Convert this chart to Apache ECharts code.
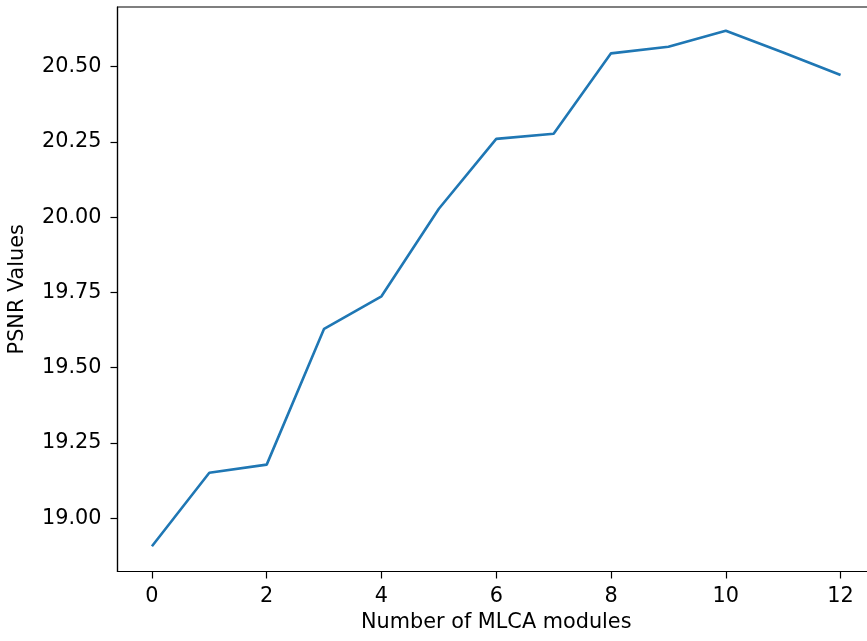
<!DOCTYPE html>
<html>
<head>
<meta charset="utf-8">
<script src="https://cdn.jsdelivr.net/npm/echarts@6/dist/echarts.min.js"></script>
<style>
html,body{margin:0;padding:0;background:#fff;}
#chart{width:867px;height:641px;}
</style>
</head>
<body>
<div id="chart"></div>
<script>
const modules = [0, 1, 2, 3, 4, 5, 6, 7, 8, 9, 10, 11, 12];
const psnrValues = [18.907, 19.151, 19.178, 19.629, 19.737, 20.028, 20.260, 20.277, 20.544, 20.566, 20.619, 20.547, 20.472];
const xTicks = [0, 2, 4, 6, 8, 10, 12];
const yTicks = [19.00, 19.25, 19.50, 19.75, 20.00, 20.25, 20.50];

const font = 'DejaVu Sans';
const fs = 20.8;
const chart = echarts.init(document.getElementById('chart'));
chart.setOption({
  animation: false,
  backgroundColor: '#fff',
  grid: {
    left: 117.5, top: 7, width: 757.5, height: 564.5,
    outerBoundsMode: 'none',
    containLabel: false,
    show: true, borderColor: '#000', borderWidth: 1.2, backgroundColor: 'transparent'
  },
  xAxis: {
    type: 'value',
    min: -0.6, max: 12.6,
    name: 'Number of MLCA modules',
    nameLocation: 'middle',
    nameGap: 41,
    nameTextStyle: { fontFamily: font, fontSize: fs, color: '#000' },
    axisLine: { show: true, onZero: false, lineStyle: { color: '#000', width: 1.2 } },
    axisTick: { show: true, customValues: xTicks, length: 7, lineStyle: { color: '#000', width: 1.2 } },
    axisLabel: { customValues: xTicks, margin: 15, fontFamily: font, fontSize: fs, color: '#000' },
    splitLine: { show: false }
  },
  yAxis: {
    type: 'value',
    min: 18.823, max: 20.698,
    name: 'PSNR Values',
    nameLocation: 'middle',
    nameRotate: 90,
    nameGap: 89,
    nameTextStyle: { fontFamily: font, fontSize: fs, color: '#000' },
    axisLine: { show: true, onZero: false, lineStyle: { color: '#000', width: 1.2 } },
    axisTick: { show: true, customValues: yTicks, length: 7, lineStyle: { color: '#000', width: 1.2 } },
    axisLabel: {
      customValues: yTicks, margin: 16, fontFamily: font, fontSize: fs, color: '#000',
      formatter: v => v.toFixed(2)
    },
    splitLine: { show: false }
  },
  series: [{
    type: 'line',
    data: modules.map((m, i) => [m, psnrValues[i]]),
    showSymbol: false,
    symbol: 'none',
    lineStyle: { color: '#1f77b4', width: 2.6 },
    itemStyle: { color: '#1f77b4' }
  }]
});
</script>
</body>
</html>
